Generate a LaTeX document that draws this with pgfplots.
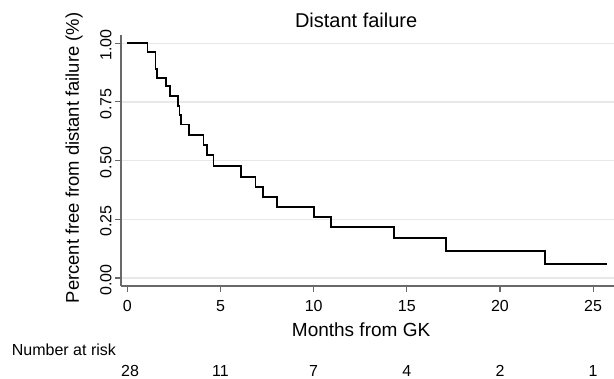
\documentclass[border=0pt]{standalone}
\usepackage{fontspec}
\setmainfont{Liberation Sans}
\usepackage{pgfplots}
\pgfplotsset{compat=1.18}
\definecolor{axisgray}{RGB}{105,105,105}
\definecolor{gridgray}{RGB}{232,232,232}
\tikzset{riskn/.style={anchor=base, font=\fontsize{16}{18}\selectfont, inner sep=0pt}}
\begin{document}
\begin{tikzpicture}
\begin{axis}[
  name=ax,
  at={(0,0)}, anchor=south west,
  scale only axis, width=493pt, height=251pt,
  xmin=-0.34, xmax=26.12, ymin=-0.034, ymax=1.035,
  axis x line*=bottom, axis y line*=left,
  axis line style={axisgray, line width=1.1pt},
  xtick={0,5,10,15,20,25}, ytick={0,0.25,0.5,0.75,1},
  tick align=outside, major tick length=6pt,
  tick style={axisgray, line width=1.1pt},
  ymajorgrids, grid style={gridgray, line width=1.2pt},
  /pgf/number format/assume math mode=true,
  xticklabel style={font=\fontsize{16}{18}\selectfont, yshift=-5pt},
  yticklabel style={font=\fontsize{16}{18}\selectfont, /pgf/number format/.cd, fixed, fixed zerofill, precision=2, /tikz/.cd, rotate=90, anchor=south, xshift=-2pt},
  title={Distant failure},
  title style={font=\fontsize{20}{22}\selectfont, at={(rel axis cs:0.477,1.0068)}, anchor=base},
  xlabel={Months from GK},
  xlabel style={font=\fontsize{19}{21}\selectfont, at={(rel axis cs:0.487,-0.201)}, anchor=base},
  ylabel={Percent free from distant failure (\%)},
  ylabel style={font=\fontsize{18.4}{20}\selectfont, at={(rel axis cs:-0.0852,0.51)}, anchor=base},
  clip=false,
]
\addplot[const plot mark left, black, line width=1.8pt, mark=none] coordinates {
  (0,1) (1.08,0.963) (1.51,0.889) (1.58,0.853) (2.08,0.818) (2.29,0.775)
  (2.71,0.733) (2.80,0.694) (2.89,0.654) (3.31,0.609) (4.09,0.566) (4.29,0.523)
  (4.62,0.477) (6.10,0.431) (6.88,0.388) (7.28,0.346) (8.03,0.302) (10.0,0.259)
  (10.92,0.216) (14.32,0.172) (17.10,0.115) (22.42,0.058) (25.75,0.058)
};
\node[anchor=base west, font=\fontsize{16}{18}\selectfont, inner sep=0pt] at (rel axis cs:-0.2217,-0.2769) {Number at risk};
\node[riskn] at ({axis cs:0.15,0} |- {rel axis cs:0,-0.362}) {28};
\node[riskn] at ({axis cs:5,0} |- {rel axis cs:0,-0.362}) {11};
\node[riskn] at ({axis cs:10,0} |- {rel axis cs:0,-0.362}) {7};
\node[riskn] at ({axis cs:15,0} |- {rel axis cs:0,-0.362}) {4};
\node[riskn] at ({axis cs:20,0} |- {rel axis cs:0,-0.362}) {2};
\node[riskn] at ({axis cs:25,0} |- {rel axis cs:0,-0.362}) {1};
\end{axis}
\pgfresetboundingbox
\path[use as bounding box] ([xshift=-121pt,yshift=-93pt]ax.south west) rectangle ([yshift=35pt]ax.north east);
\end{tikzpicture}
\end{document}
